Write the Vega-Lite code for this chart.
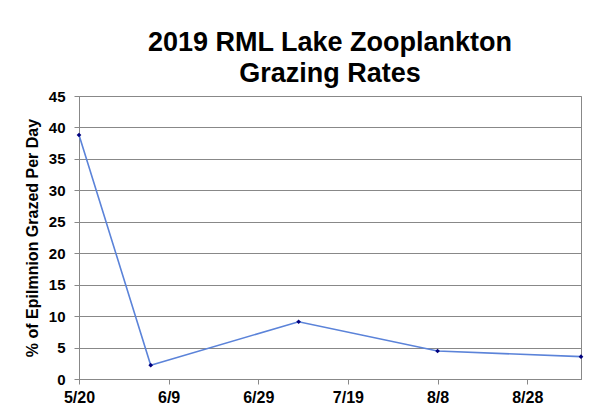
{
  "$schema": "https://vega.github.io/schema/vega-lite/v6.json",
  "width": 502,
  "height": 283,
  "autosize": "none",
  "padding": {"left": 79, "top": 96, "right": 24, "bottom": 34},
  "background": "white",
  "title": {
    "text": ["2019 RML Lake Zooplankton", "Grazing Rates"],
    "font": "Liberation Sans",
    "fontSize": 27,
    "fontWeight": "bold",
    "color": "#000000",
    "lineHeight": 31,
    "anchor": "middle",
    "offset": 1
  },
  "data": {
    "values": [
      {"date": "2019-05-20", "rate": 38.8},
      {"date": "2019-06-05", "rate": 2.2},
      {"date": "2019-07-08", "rate": 9.1},
      {"date": "2019-08-08", "rate": 4.45},
      {"date": "2019-09-09", "rate": 3.55}
    ]
  },
  "config": {
    "view": {"stroke": "#888888", "strokeWidth": 1},
    "axis": {
      "labelFont": "Liberation Sans",
      "labelFontWeight": "bold",
      "labelFontSize": 16,
      "labelColor": "#000000",
      "titleFont": "Liberation Sans",
      "titleFontWeight": "bold",
      "titleFontSize": 16,
      "titleColor": "#000000",
      "domainColor": "#888888",
      "tickColor": "#888888",
      "gridColor": "#888888",
      "gridOpacity": 1
    }
  },
  "encoding": {
    "x": {
      "field": "date",
      "type": "temporal",
      "scale": {"type": "utc", "domain": [{"year": 2019, "month": 5, "date": 20, "utc": true}, {"year": 2019, "month": 9, "date": 9, "utc": true}], "nice": false},
      "axis": {
        "title": null,
        "grid": false,
        "labelFlush": false,
        "labelOverlap": false,
        "labelExpr": "utcFormat(datum.value, '%-m/%-d')",
        "values": [
          {"year": 2019, "month": 5, "date": 20, "utc": true},
          {"year": 2019, "month": 6, "date": 9, "utc": true},
          {"year": 2019, "month": 6, "date": 29, "utc": true},
          {"year": 2019, "month": 7, "date": 19, "utc": true},
          {"year": 2019, "month": 8, "date": 8, "utc": true},
          {"year": 2019, "month": 8, "date": 28, "utc": true}
        ],
        "tickSize": 5,
        "labelPadding": 5
      }
    },
    "y": {
      "field": "rate",
      "type": "quantitative",
      "scale": {"domain": [0, 45], "nice": false},
      "axis": {
        "title": "% of Epilmnion Grazed Per Day",
        "values": [0, 5, 10, 15, 20, 25, 30, 35, 40, 45],
        "labelFontSize": 15,
        "tickSize": 5,
        "labelPadding": 9,
        "titlePadding": 8
      }
    }
  },
  "layer": [
    {
      "mark": {"type": "line", "color": "#5b83d9", "strokeWidth": 1.6}
    },
    {
      "mark": {"type": "point", "shape": "diamond", "filled": true, "color": "#00007f", "size": 22, "opacity": 1}
    }
  ]
}
